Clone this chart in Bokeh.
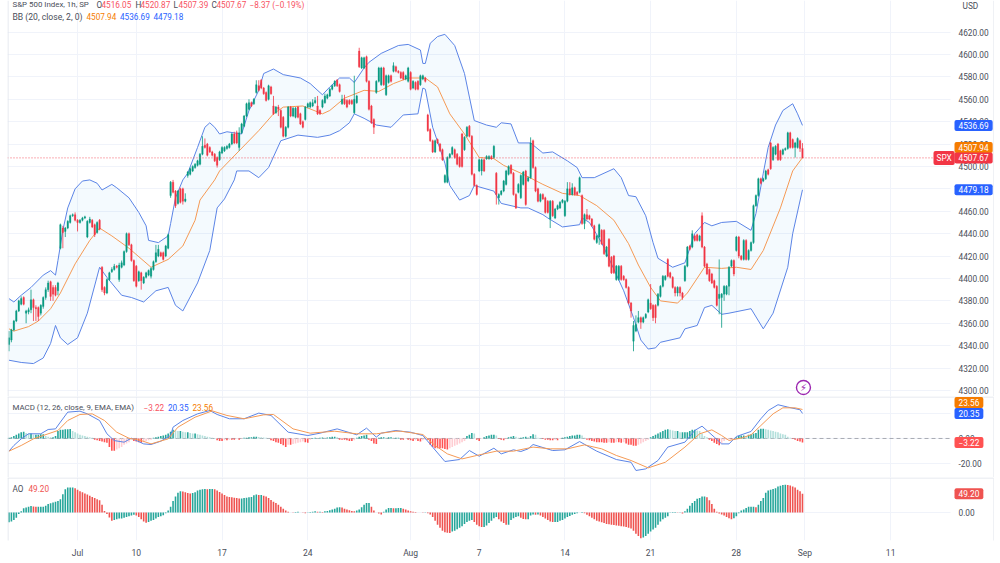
from bokeh.plotting import figure
from bokeh.layouts import column
from bokeh.core.properties import value
from bokeh.models import (Range1d, LinearAxis, Grid, FixedTicker, NumeralTickFormatter, Label,
                          BoxAnnotation, ColumnDataSource)
from bokeh.embed import file_html
from bokeh.resources import INLINE

# ---------- candles (1h bars) ----------
opens = [
4341,4345,4354,4362,4371,4377,4383,4369,4370,4372,4381,4374,4374,4369,4375,4383,4390,4397,4392,4392,
4389,4427,4445,4442,4445,4450,4456,4457,4452,4450,4452,4454,4437,4450,4452,4448,4441,4452,4410,4392,
4387,4399,4406,4408,4411,4399,4410,4412,4424,4440,4430,4416,4411,4398,4405,4396,4401,4403,4402,4408,
4415,4420,4423,4423,4420,4427,4474,4486,4478,4467,4480,4480,4469,4492,4493,4496,4499,4501,4502,4511,
4519,4520,4517,4513,4511,4508,4506,4512,4514,4516,4517,4520,4529,4530,4517,4530,4536,4545,4551,4557,
4556,4566,4572,4577,4570,4566,4560,4571,4554,4548,4553,4550,4544,4527,4535,4553,4545,4544,4553,4547,
4540,4542,4553,4553,4554,4557,4554,4550,4553,4557,4561,4563,4569,4572,4577,4573,4556,4560,4559,4559,
4559,4548,4557,4603,4588,4588,4598,4576,4554,4542,4566,4576,4573,4588,4564,4575,4581,4585,4589,4585,
4584,4584,4578,4576,4584,4570,4575,4576,4573,4578,4579,4546,4533,4523,4513,4524,4520,4515,4486,4486,
4508,4511,4515,4511,4508,4529,4515,4527,4536,4527,4493,4483,4496,4496,4506,4507,4507,4509,4508,4494,
4472,4475,4478,4484,4493,4501,4494,4475,4477,4472,4484,4496,4487,4490,4523,4499,4480,4469,4475,4472,
4469,4453,4469,4454,4462,4463,4468,4456,4469,4480,4475,4481,4477,4477,4474,4449,4457,4456,4453,4447,
4432,4437,4443,4443,4420,4435,4419,4420,4399,4399,4411,4402,4399,4392,4378,4344,4353,4361,4365,4361,
4365,4370,4378,4376,4376,4376,4384,4393,4399,4417,4405,4401,4392,4387,4392,4387,4398,4411,4429,4428,
4438,4439,4434,4456,4428,4413,4408,4404,4398,4393,4382,4383,4386,4386,4393,4411,4416,4425,4437,4420,
4417,4434,4417,4425,4432,4465,4474,4489,4487,4489,4497,4521,4506,4511,4520,4514,4511,4515,4516,4530,
4524,4517,4517,4523,4516.05]
closes = [
4347,4354,4362,4371,4380,4382,4377,4371,4372,4381,4374,4373,4366,4376,4383,4390,4396,4384,4386,4385,
4396,4448,4441,4445,4451,4456,4457,4452,4450,4452,4454,4455,4451,4453,4446,4439,4450,4444,4390,4387,
4399,4405,4408,4411,4410,4412,4414,4424,4440,4430,4416,4398,4393,4406,4398,4401,4405,4407,4409,4415,
4423,4426,4420,4417,4429,4439,4486,4477,4465,4478,4468,4469,4471,4495,4498,4500,4502,4505,4511,4518,
4517,4510,4513,4510,4505,4501,4513,4517,4517,4518,4520,4529,4521,4521,4530,4538,4545,4556,4557,4554,
4560,4573,4568,4570,4565,4559,4572,4565,4547,4553,4551,4535,4527,4535,4553,4545,4552,4552,4544,4538,
4535,4553,4556,4557,4557,4559,4547,4547,4559,4563,4564,4569,4572,4576,4572,4567,4560,4556,4553,4556,
4556,4560,4563,4589,4597,4597,4576,4551,4539,4535,4576,4588,4588,4573,4581,4581,4576,4590,4585,4584,
4579,4578,4581,4588,4569,4576,4569,4569,4581,4581,4576,4532,4523,4513,4523,4521,4514,4506,4492,4508,
4511,4517,4508,4502,4500,4500,4526,4535,4527,4493,4483,4475,4506,4506,4496,4509,4509,4507,4518,4475,
4475,4478,4487,4496,4500,4494,4475,4463,4484,4492,4495,4466,4490,4521,4499,4478,4469,4475,4471,4459,
4459,4469,4456,4462,4465,4468,4470,4469,4480,4475,4481,4475,4475,4490,4449,4457,4453,4453,4447,4435,
4438,4448,4431,4422,4428,4411,4405,4405,4411,4411,4399,4399,4392,4378,4371,4358,4359,4365,4361,4365,
4368,4381,4373,4365,4365,4386,4393,4402,4402,4402,4401,4392,4387,4392,4387,4383,4411,4428,4426,4440,
4434,4434,4438,4428,4411,4404,4398,4396,4392,4376,4386,4386,4393,4393,4410,4416,4404,4437,4420,4417,
4434,4417,4425,4432,4465,4474,4489,4485,4489,4496,4493,4498,4517,4518,4506,4506,4515,4516,4530,4517,
4517,4521,4525,4516,4507.67]
highs = [
4353,4355,4363,4372,4381,4384,4384,4372,4374,4390,4382,4376,4375,4377,4384,4392,4398,4398,4394,4394,
4397,4449,4447,4446,4452,4457,4458,4459,4453,4453,4455,4456,4452,4455,4453,4449,4451,4453,4411,4393,
4400,4406,4410,4413,4412,4414,4416,4425,4441,4441,4431,4417,4412,4407,4406,4402,4406,4408,4410,4416,
4430,4430,4424,4424,4430,4440,4487,4488,4479,4479,4481,4481,4476,4496,4499,4501,4503,4506,4512,4527,
4525,4521,4518,4514,4512,4509,4514,4518,4518,4519,4521,4530,4531,4532,4535,4539,4546,4557,4560,4558,
4561,4577,4577,4578,4571,4567,4573,4572,4563,4554,4555,4551,4545,4536,4554,4554,4553,4553,4554,4548,
4541,4554,4557,4558,4560,4562,4563,4551,4560,4565,4565,4570,4573,4577,4578,4574,4564,4564,4560,4560,
4560,4581,4564,4606,4598,4598,4599,4577,4555,4543,4577,4589,4589,4589,4582,4582,4582,4593,4590,4586,
4585,4585,4582,4589,4585,4577,4576,4577,4582,4582,4580,4547,4534,4524,4524,4525,4521,4516,4493,4509,
4512,4518,4516,4512,4509,4530,4527,4536,4537,4528,4494,4484,4507,4507,4507,4510,4510,4510,4519,4495,
4476,4479,4488,4497,4501,4502,4495,4476,4485,4493,4496,4497,4491,4526,4524,4500,4481,4476,4476,4473,
4470,4470,4470,4463,4466,4469,4471,4470,4486,4486,4485,4482,4478,4491,4475,4458,4462,4457,4454,4448,
4439,4449,4444,4444,4429,4436,4420,4421,4412,4412,4412,4403,4400,4393,4379,4362,4367,4371,4366,4366,
4369,4382,4395,4377,4377,4387,4394,4403,4403,4418,4406,4402,4393,4393,4393,4388,4412,4429,4430,4443,
4439,4440,4439,4459,4429,4414,4409,4405,4399,4394,4417,4387,4394,4394,4411,4417,4417,4438,4438,4421,
4435,4435,4426,4433,4466,4475,4490,4490,4490,4497,4498,4522,4518,4519,4521,4515,4516,4517,4531,4531,
4525,4522,4526,4524,4520.87]
lows = [
4335,4343,4353,4361,4370,4376,4376,4360,4368,4369,4362,4362,4362,4367,4373,4381,4388,4380,4380,4384,
4385,4426,4427,4437,4444,4449,4455,4451,4442,4449,4451,4453,4436,4449,4445,4437,4440,4443,4388,4385,
4386,4398,4405,4407,4409,4397,4409,4411,4423,4429,4415,4397,4392,4397,4390,4395,4400,4402,4400,4407,
4414,4419,4419,4416,4419,4426,4472,4476,4463,4466,4467,4466,4468,4490,4492,4495,4498,4500,4501,4510,
4516,4509,4512,4509,4504,4499,4505,4511,4513,4515,4516,4519,4520,4520,4514,4529,4535,4544,4550,4553,
4555,4565,4567,4569,4564,4558,4559,4564,4546,4547,4545,4534,4526,4526,4534,4544,4544,4543,4543,4537,
4534,4541,4552,4552,4553,4556,4546,4546,4552,4556,4560,4562,4568,4571,4571,4566,4555,4555,4552,4555,
4555,4547,4556,4588,4587,4587,4575,4550,4538,4529,4565,4575,4572,4572,4563,4574,4575,4584,4584,4583,
4578,4577,4577,4575,4568,4569,4568,4568,4572,4577,4575,4531,4522,4512,4512,4520,4513,4505,4485,4485,
4507,4510,4507,4501,4499,4499,4514,4526,4526,4492,4482,4474,4495,4492,4495,4506,4506,4506,4507,4466,
4466,4474,4477,4483,4492,4493,4474,4462,4476,4471,4483,4465,4486,4489,4498,4477,4468,4468,4470,4458,
4458,4445,4455,4453,4461,4462,4467,4455,4468,4474,4474,4474,4474,4476,4448,4444,4452,4452,4446,4434,
4431,4430,4430,4421,4419,4410,4404,4404,4398,4398,4398,4398,4391,4377,4365,4335,4352,4360,4355,4360,
4364,4369,4372,4362,4360,4375,4383,4392,4398,4401,4400,4391,4384,4384,4384,4381,4397,4410,4425,4427,
4433,4433,4433,4427,4410,4403,4397,4395,4391,4375,4368,4356,4380,4385,4385,4410,4402,4424,4418,4416,
4416,4416,4416,4424,4431,4464,4473,4484,4486,4488,4492,4497,4505,4510,4505,4505,4510,4514,4515,4516,
4516,4508,4516,4513,4507.39]

# ---------- Bollinger bands ----------
upper_i = [0,2,5,9,14,17,19,20,22,24,27,30,33,36,38,42,44,49,53,56,57,61,65,66,68,71,73,77,80,82,84,86,89,92,95,98,102,104,108,112,119,123,128,131,135,139,141,145,147,152,159,163,168,169,170,172,175,178,182,186,188,190,195,199,201,205,208,213,218,222,228,232,234,239,247,250,253,256,260,263,265,271,276,280,284,287,291,297,303,305,308,310,313,316,320,322,324]
upper_v = [4382,4379,4385,4392,4403,4407,4403,4416,4443,4463,4480,4487,4488,4485,4479,4484,4481,4472,4459,4447,4434,4432,4438,4449,4472,4488,4494,4517,4535,4539,4535,4529,4531,4530,4529,4550,4568,4583,4587,4582,4579,4574,4564,4571,4579,4579,4575,4588,4593,4601,4608,4609,4604,4592,4592,4610,4616,4618,4608,4583,4562,4541,4537,4535,4539,4538,4521,4521,4512,4513,4505,4499,4490,4490,4498,4490,4474,4473,4456,4432,4418,4410,4414,4440,4450,4447,4450,4451,4443,4458,4494,4517,4537,4550,4556,4547,4536.69]
lower_i = [0,5,10,14,17,19,21,24,28,32,37,40,46,50,55,60,65,68,71,77,82,85,88,92,93,98,102,106,111,118,126,131,135,139,141,145,150,156,161,167,169,170,173,178,180,184,188,190,198,201,209,212,218,220,226,233,234,237,242,246,251,255,258,261,264,266,274,276,281,284,287,291,294,303,308,312,318,320,324]
lower_v = [4327,4325,4324,4329,4342,4358,4347,4341,4347,4369,4410,4401,4385,4383,4379,4389,4392,4376,4371,4396,4425,4463,4471,4488,4496,4496,4490,4499,4523,4528,4526,4528,4532,4539,4547,4543,4537,4535,4546,4547,4570,4569,4535,4503,4483,4470,4474,4483,4478,4467,4463,4463,4457,4454,4446,4448,4454,4450,4432,4413,4389,4365,4345,4337,4338,4343,4347,4355,4358,4374,4376,4368,4369,4373,4355,4369,4410,4440,4479.18]
basis_i = [0,2,8,12,17,21,27,33,37,42,49,58,65,71,76,78,84,86,94,102,108,112,120,128,131,137,145,151,157,163,170,175,180,186,192,198,202,210,218,226,233,240,247,253,257,262,266,273,277,284,291,297,303,308,315,320,324]
basis_v = [4355,4353,4357,4362,4373,4387,4413,4434,4445,4438,4427,4410,4417,4429,4452,4470,4488,4496,4514,4532,4547,4553,4554,4547,4550,4561,4568,4567,4574,4579,4579,4571,4547,4529,4508,4507,4501,4493,4484,4476,4474,4465,4452,4431,4412,4392,4380,4378,4387,4410,4409,4410,4408,4425,4463,4496,4507.94]

# ---------- MACD ----------
macd_i = [0,2,5,8,13,16,19,21,24,29,32,37,40,43,47,50,55,58,62,66,67,71,77,82,85,90,96,102,107,114,118,122,127,134,142,146,150,152,158,160,164,169,173,178,184,188,192,198,201,206,209,212,214,222,227,233,240,248,254,256,260,265,269,276,280,283,288,291,294,297,303,307,310,314,318,323,324]
macd_v = [-10.3,-5.7,-0.3,3.8,3.8,7.3,7.8,13.3,21.4,22.2,20,14.6,3.8,-1.7,-3,0.2,-4.4,-4.9,-2.2,2.4,9.2,14.6,20,22.7,19.5,16,16,20.6,18.7,5.1,3.8,2.4,4.3,7.8,3,8.4,1.1,4.3,6.5,5.9,5.1,2.4,-7,-18.7,-17.1,-9.8,-14.4,-7.9,-12.5,-9.2,-10.6,-8.4,-4.9,-9.8,-9.2,-2.5,-10.3,-17.1,-19.3,-26,-24.7,-17.9,-7,-3,6.5,10,1.1,-4.4,-4.4,1.6,5.7,16,22.7,27.4,25.5,23.3,20.35]
signal_i = [0,5,10,20,24,29,34,39,44,49,54,58,65,69,76,83,89,96,104,108,116,123,133,142,150,158,160,169,174,179,185,191,199,206,214,221,228,235,242,248,254,261,268,276,282,287,291,294,299,303,307,312,316,321,324]
signal_v = [-10.3,-5.7,-0.3,6.5,14.6,19.5,20,14.6,5.1,0.2,-1.7,-4.4,-0.3,9.2,17.3,22.4,18.7,16,19.2,19.5,7.8,4.3,5.9,3.8,3.8,5.9,5.9,3.2,-5.7,-12.5,-16.6,-13.8,-10.3,-10.3,-7,-8.4,-8.4,-5.2,-8.4,-13.8,-17.9,-23.9,-19.3,-7,3.8,7,2.4,-1.6,0.3,3,10.5,20,24.9,24.9,23.56]
macd_hist = [
0.5,1,2,3,4,5,5.5,4.5,4,4,
3,3,3,3.5,3.5,2,1.5,1,1,2,
6,7,7,7.5,7.5,7.8,6,5,4,3,
2.5,2,1.5,1,.5,-1,-1.5,-2,-2.5,-3,
-3.5,-7,-10,-10,-9,-8,-7,-5,-4,-3,
-1,-2,-2.5,-3,-3.5,-3,-2,-1.5,-1,.5,
1,1.5,2,2.5,3,4,5.5,7,6.5,6,
6,5.5,5,5,4.5,4,4,3.5,3,2.5,
2,1.5,1,.5,.3,-1.5,-2,-2,-1.5,-1.5,
-1,-1,-1,-.5,-1,-.5,.5,.5,1,1,
1.5,1.5,1.2,1,.8,.5,.2,-1.5,-2,-3,
-3.5,-4.5,-5.5,-7,-5,-5,-4.5,-4,-3.5,-3,
-2.5,-3,-3.5,-1,.3,.5,.3,.5,.8,.5,
.8,1,1.5,1.5,1,-1,-1,-1,-1.5,-2,
-2,-1.5,.5,1.5,2,2.5,3,-1,-2,-4,
-4.5,.5,1,1,.5,1,1,.5,.5,.5,
-1,-1,-.5,-1,-1.5,-2,-1.5,-2,-2.5,-1.5,
-1,-1,-5,-7,-8,-8,-8,-8,-8.5,-9,
-8,-7,-6,-5,-4,-3,-2,2,3,4.5,
4,-1,-2,-.5,1,2,2.5,3,3,2.5,
-.5,-1,-1.5,-.5,1,1.5,2,1.5,.5,.5,
1,1.5,1,2,3.5,3,.5,.3,-.5,-1,
-1,-1.5,-1.5,-1,-1.5,-.5,.5,1,1.5,2,
2.5,2.5,3,3,2.5,.5,-1,-1.5,-2,-2.5,
-3,-3,-3,-3.5,-3.5,-3,-3.5,-3.5,-3,-3,
-3.5,-3,-4,-5,-5,-6,-6,-5,-4,-3,
-2,-1,1,2,3,4,5,6,7,7.5,
7,6.5,6,6,5,5,5,5,6,7,
7,6.5,6,4,2,1,-1,-2,-3.5,-4.5,
-5.5,-4,-2,-1,-.5,-.5,-.2,1,2,2.5,
2.5,2,3,3.5,4,4.5,7,8,8,7.5,
7,6.5,6,5.5,5,4,3.5,3,1.5,.5,
-.5,-1,-2,-2.5,-3.22]

# ---------- Awesome Oscillator ----------
ao_vals = [
-26,-24,-20,-14,-4,3,11,13,15,17,
16,15,15,15,15,18,22,24,26,28,
30,35,48,61,66,66,66,64,60,56,
53,50,47,44,41,38,35,32,20,4,
-4,-13,-22,-20,-18,-16,-16,-14,-12,-10,
-8,-6,-8,-12,-18,-24,-27,-25,-22,-20,
-16,-12,-10,-7,-2,5,15,30,42,52,
56,55,53,51,50,51,53,58,60,61,
62,61,62,62,61,58,54,50,46,42,
41,40,39,38,37,37,38,39,40,41,
45,47,46,46,44,42,38,33,28,25,
20,15,10,5,2,0,-1,1,2,0,
-1,-2,-1,1,2,3,2,2,1,3,
4,6,8,10,13,14,13,10,8,6,
4,3,5,8,14,20,25,25,15,5,
0,-3,-5,2,8,12,12,11,11,12,
12,10,8,5,3,2,1,0,0,-1,
-1,-2,-5,-12,-22,-32,-40,-48,-52,-53,
-54,-50,-48,-44,-40,-36,-30,-25,-22,-20,
-25,-32,-36,-38,-38,-34,-28,-22,-15,-12,
-18,-24,-28,-32,-32,-20,-15,-12,-10,-14,
-17,-18,-18,-8,-5,-6,-5,-8,-12,-16,
-20,-24,-25,-25,-25,-22,-20,-16,-12,-9,
-6,-4,-2,0,1,-2,-6,-10,-14,-18,
-22,-24,-26,-28,-30,-31,-32,-33,-34,-35,
-36,-37,-38,-40,-42,-48,-56,-62,-68,-66,
-62,-56,-50,-45,-40,-32,-24,-18,-14,-10,
-1,1,1,-1,-1,-3,3,10,18,25,
30,36,38,42,42,40,32,22,10,2,
-3,-5,-8,-12,-15,-18,-15,-10,-2,5,
8,12,15,15,15,14,20,30,38,52,
58,60,62,64,68,70,72,73,72,71,
68,66,60,56,49.2]

price_ticks = list(range(4300, 4621, 20))
macd_ticks = [-20, 0, 20]
ao_ticks = [0]
date_ticks = [28, 52, 87, 122, 164, 192, 227, 262, 297, 325, 360]
date_labels = ["Jul", "10", "17", "24", "Aug", "7", "14", "21", "28", "Sep", "11"]

UP, DOWN = "#089981", "#f23645"
BLUE, ORANGE, RED = "#2962ff", "#f57c00", "#f23645"
LINE_BLUE, LINE_ORANGE = "#5b84e6", "#f59a55"
FONT = "Roboto"
TXT = "#4a4e59"
GRID = "#f0f3fa"
SEP = "#e0e3eb"
XMAX = 402.0
XEND = 384.4
xr = Range1d(-0.6, XMAX)
n = len(opens)
xs = list(range(n))

def canvas_box(p, left, right, top, bottom, color, level="annotation"):
    p.add_layout(BoxAnnotation(left=left, right=right, top=top, bottom=bottom, left_units="canvas",
                               right_units="canvas", top_units="canvas", bottom_units="canvas",
                               fill_color=color, fill_alpha=1, line_color=None, level=level))

def pane(h, ymin, ymax, ticks, below=False):
    total = h + (23 if below else 0)
    p = figure(width=1000, height=total, frame_width=986, frame_height=h, x_range=xr,
               y_range=Range1d(ymin, ymax), x_axis_location=None, y_axis_location=None,
               toolbar_location=None, output_backend="svg", min_border_left=7, min_border_right=7,
               min_border_top=0, min_border_bottom=23 if below else 0)
    p.outline_line_color = None
    p.background_fill_color = "white"
    p.border_fill_color = "white"
    p.grid.grid_line_color = None
    ax = LinearAxis(ticker=FixedTicker(ticks=ticks), formatter=NumeralTickFormatter(format="0.00"),
                    axis_line_color=None, major_tick_line_color=None, minor_tick_line_color=None,
                    major_tick_out=0, major_tick_in=0, minor_tick_out=0, minor_tick_in=0,
                    major_label_text_font=FONT, major_label_text_font_size="8.3px",
                    major_label_text_color=TXT, major_label_standoff=-35)
    p.add_layout(ax, "right")
    p.add_layout(Grid(dimension=1, ticker=FixedTicker(ticks=ticks), grid_line_color=GRID))
    p.add_layout(Grid(dimension=0, ticker=FixedTicker(ticks=date_ticks), grid_line_color=GRID))
    canvas_box(p, 950, 993, 0, total, "white", level="glyph")
    canvas_box(p, 7, 8, 0, total, SEP)
    canvas_box(p, 992.5, 993.5, 0, total, SEP)
    return p

def text(p, x, y, s, color=TXT, size="8.2px"):
    p.add_layout(Label(x=x, y=y, x_units="canvas", y_units="canvas", text=s, text_color=color,
                       text_font=FONT, text_font_size=size, text_baseline="middle", text_align="left"))

def tag(p, x, v, s, color, off=0, pad=(4, 2)):
    p.add_layout(Label(x=x, y=v, x_units="canvas", y_units="data", y_offset=off, text=s, text_color="white",
                       text_font=FONT, text_font_size="8.3px", text_baseline="middle", text_align="left",
                       background_fill_color=color, padding=pad, border_radius=2))

# ---------- main pane ----------
main = pane(396, 4294.6, 4648.2, price_ticks)
main.patch(upper_i + lower_i[::-1], upper_v + lower_v[::-1], fill_color="#2196f3", fill_alpha=0.05, line_color=None)
main.line(upper_i, upper_v, line_color=LINE_BLUE, line_width=1)
main.line(lower_i, lower_v, line_color=LINE_BLUE, line_width=1)
main.line(basis_i, basis_v, line_color=LINE_ORANGE, line_width=1)
candle_colors = [UP if c >= o else DOWN for o, c in zip(opens, closes)]
src = ColumnDataSource(dict(x=xs, o=opens, c=closes, h=highs, l=lows, col=candle_colors))
main.segment("x", "l", "x", "h", source=src, line_color="col", line_width=0.8)
main.vbar(x="x", bottom="o", top="c", width=0.62, source=src, fill_color="col", line_color="col", line_width=0.3)
main.line([-0.6, XEND], [closes[-1], closes[-1]], line_color=RED, line_dash="1 2", line_width=1, line_alpha=0.8)
main.scatter([324.4], [4302.7], size=14, marker="circle", fill_color="white", line_color="#9c27b0", line_width=1.4)
main.text([324.4], [4302.7], text=["⚡"], text_color="#9c27b0", text_font=value("DejaVu Sans"), text_font_size="10px",
          text_font_style="bold", text_align="center", text_baseline="middle")
text(main, 12, 4, "S&P 500 Index, 1h, SP", size="7.9px")
for x, s in [(96, "O"), (135, "H"), (173, "L"), (211, "C")]:
    text(main, x, 4, s)
for x, s in [(101, "4516.05"), (140, "4520.87"), (178, "4507.39"), (216, "4507.67"), (249, "−8.37 (−0.19%)")]:
    text(main, x, 4, s, color="#f7525f")
text(main, 12, 16, "BB (20, close, 2, 0)", size="8.6px")
text(main, 86, 16, "4507.94", color=ORANGE)
text(main, 119.5, 16, "4536.69", color=BLUE)
text(main, 153, 16, "4479.18", color=BLUE)
text(main, 962, 5, "USD", size="8.3px")
tag(main, 954, upper_v[-1], "4536.69", BLUE)
tag(main, 954, basis_v[-1], "4507.94", ORANGE, off=10)
tag(main, 954, closes[-1], "4507.67", RED)
tag(main, 933, closes[-1], "SPX", RED, pad=(3, 2))
tag(main, 954, lower_v[-1], "4479.18", BLUE)

# ---------- MACD pane ----------
macd_pane = pane(81, -31.7, 34.1, macd_ticks)
canvas_box(macd_pane, 7, 993, 0, 1, SEP)
macd_pane.line([-0.6, XEND], [0, 0], line_color="#9598a1", line_dash="4 3", line_width=0.8)
hist_cols = []
for k, v in enumerate(macd_hist):
    prev = macd_hist[k - 1] if k else v
    if v >= 0:
        hist_cols.append("#26a69a" if v >= prev else "#b2dfdb")
    else:
        hist_cols.append("#ff5252" if v <= prev else "#ffcdd2")
macd_pane.vbar(x=xs, bottom=0, top=macd_hist, width=0.65, fill_color=hist_cols, line_color=None)
macd_pane.line(macd_i, macd_v, line_color=LINE_BLUE, line_width=1)
macd_pane.line(signal_i, signal_v, line_color=LINE_ORANGE, line_width=1)
text(macd_pane, 12, 11, "MACD (12, 26, close, 9, EMA, EMA)", size="7.9px")
text(macd_pane, 143, 11, "−3.22", color="#f7525f")
text(macd_pane, 167.5, 11, "20.35", color=BLUE)
text(macd_pane, 192, 11, "23.56", color=ORANGE)
tag(macd_pane, 954, macd_v[-1], "20.35", BLUE)
tag(macd_pane, 954, signal_v[-1], "23.56", ORANGE, off=7)
tag(macd_pane, 954, macd_hist[-1], "−3.22", "#ff5252")

# ---------- AO pane ----------
ao_pane = pane(63, -73.7, 92, ao_ticks, below=True)
canvas_box(ao_pane, 7, 993, 0, 1, SEP)
ao_cols = [("#26a69a" if k == 0 or v >= ao_vals[k - 1] else "#ef5350") for k, v in enumerate(ao_vals)]
ao_pane.vbar(x=xs, bottom=0, top=ao_vals, width=0.65, fill_color=ao_cols, line_color=None)
xax = LinearAxis(ticker=FixedTicker(ticks=date_ticks), major_label_overrides=dict(zip(date_ticks, date_labels)),
                 axis_line_color=None, major_tick_line_color=None, minor_tick_line_color=None,
                 major_tick_out=0, major_tick_in=0, minor_tick_out=0, minor_tick_in=0,
                 major_label_text_font=FONT, major_label_text_font_size="8.5px", major_label_text_color=TXT,
                 major_label_standoff=7)
ao_pane.add_layout(xax, "below")
text(ao_pane, 12, 11, "AO")
text(ao_pane, 28, 11, "49.20", color="#ef5350")
tag(ao_pane, 954, ao_vals[-1], "49.20", "#ef5350")

page = column(main, macd_pane, ao_pane, spacing=0)
open("out.html", "w").write(file_html(page, INLINE))
